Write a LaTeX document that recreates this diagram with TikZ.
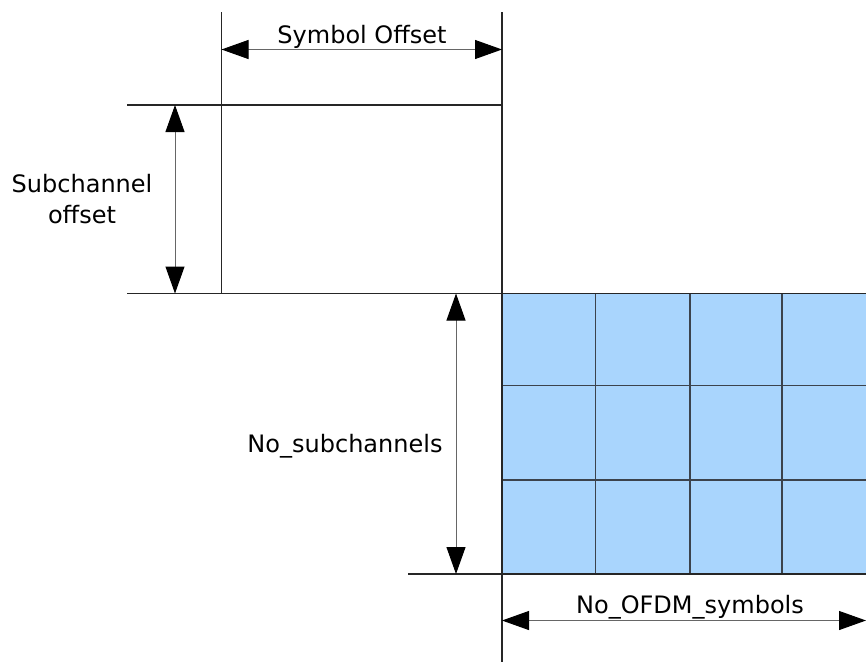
\documentclass[tikz,border=0pt]{standalone}
\usepackage{fontspec}
\setmainfont{DejaVu Sans}
\usetikzlibrary{arrows.meta}

\definecolor{cellblue}{HTML}{A9D5FD}
\definecolor{gridgray}{HTML}{3C434C}

\begin{document}
\begin{tikzpicture}[x=1pt,y=-1pt,
    guide/.style={line width=1.1pt,draw=black!85},
    dimarrow/.style={{Triangle[length=27pt,width=19pt,color=black]}-{Triangle[length=27pt,width=19pt,color=black]},
        line width=1pt,draw=black!60},
    lbl/.style={font=\fontsize{24}{31}\selectfont,inner sep=0pt}]

    \useasboundingbox (0,0) rectangle (866,662);

    % Reference points of the frame
    \coordinate (symL) at (221.5,12);
    \coordinate (symR) at (502,12);
    \coordinate (topL) at (127,105);
    \coordinate (topR) at (502,105);
    \coordinate (midL) at (127,293.5);
    \coordinate (midC) at (221.5,293.5);
    \coordinate (gridTL) at (502,293.5);
    \coordinate (gridBR) at (866,574);
    \coordinate (lowL) at (408,574);
    \coordinate (rightB) at (502,662);

    % The blue block of cells
    \fill[cellblue] (gridTL) rectangle (gridBR);
    \foreach \x in {595.5,690,782} {
        \draw[gridgray,line width=1.1pt] (\x,293.5) -- (\x,574);
    }
    \foreach \y in {385.5,480} {
        \draw[gridgray,line width=1.1pt] (502,\y) -- (866,\y);
    }

    % Guide lines
    \draw[guide] (symL) -- (midC);
    \draw[guide] (symR) -- (rightB);
    \draw[guide] (topL) -- (topR);
    \draw[guide] (midL) -- (gridTL) -- (866,293.5);
    \draw[guide] (lowL) -- (gridBR);

    % Dimension arrows
    \coordinate (a1) at (221.5,49.5);
    \coordinate (a2) at (502,49.5);
    \draw[dimarrow] (a1) -- (a2);
    \coordinate (b1) at (175,105);
    \coordinate (b2) at (175,293.5);
    \draw[dimarrow] (b1) -- (b2);
    \coordinate (c1) at (456,293.5);
    \coordinate (c2) at (456,574);
    \draw[dimarrow] (c1) -- (c2);
    \coordinate (d1) at (502,620.5);
    \coordinate (d2) at (866,620.5);
    \draw[dimarrow] (d1) -- (d2);

    % Labels
    \node[lbl,anchor=base] (symoff) at (362,43) {Symbol Offset};
    \node[lbl,align=center] (suboff) at (82,199.5) {Subchannel\\offset};
    \node[lbl,anchor=base] (nosub) at (345,452) {No\_subchannels};
    \node[lbl,anchor=base] (noofdm) at (690,613) {No\_OFDM\_symbols};

\end{tikzpicture}
\end{document}
